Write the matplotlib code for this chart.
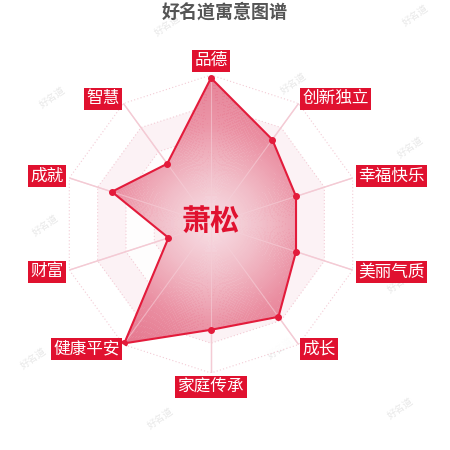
import numpy as np
import matplotlib
matplotlib.use("Agg")
import matplotlib.pyplot as plt
from matplotlib.colors import LinearSegmentedColormap

plt.rcParams["font.family"] = ["Noto Sans CJK SC", "DejaVu Sans"]

# data
title = "好名道寓意图谱"
name = "萧松"
categories = ["品德", "创新独立", "幸福快乐", "美丽气质", "成长",
              "家庭传承", "健康平安", "财富", "成就", "智慧"]
values = [98, 70, 60, 60, 77, 71, 99, 30, 70, 50]
max_value = 100
rings = [20, 40, 60, 80, 100]

red = "#e0112f"
line_red = "#e31b3b"
grid_pink = "#f3cbd5"

fig = plt.figure(figsize=(4.5, 4.5), dpi=100)
fig.patch.set_facecolor("white")

# polar axes centred at (211, 224) px, outer ring radius ~149 px
ax = fig.add_axes([0.1378, 0.1711, 0.6622, 0.6622], projection="polar")
ax.set_theta_offset(np.pi / 2)
ax.set_theta_direction(-1)
ax.set_ylim(0, max_value)
ax.axis("off")

n = len(categories)
angles = np.arange(n) * 2 * np.pi / n
ang_closed = np.append(angles, angles[0])

# split areas: alternating faint bands
for i, r in enumerate(rings[::-1]):
    col = "white" if i % 2 == 0 else "#fcf1f4"
    ax.fill(ang_closed, [r] * (n + 1), color=col, zorder=1, lw=0, alpha=0.9)

# dotted decagon grid
for r in rings:
    ax.plot(ang_closed, [r] * (n + 1), color=grid_pink, lw=0.8,
            ls=(0, (1, 2)), zorder=2)

# axis spokes
for a in angles:
    ax.plot([a, a], [0, max_value], color="#f2c4cf", lw=1.0, zorder=2)

# value polygon with a radial gradient fill
vals_closed = np.append(values, values[0])
shape = ax.fill(ang_closed, vals_closed, facecolor="none", edgecolor="none",
                zorder=3)[0]
cmap = LinearSegmentedColormap.from_list(
    "rad", ["#f7e0e6", "#f1bcc7", "#ea8ea1", "#e4768d"])
th = np.linspace(0, 2 * np.pi, 361)
rr = np.linspace(0, max_value, 101)
TH, RR = np.meshgrid(th, rr)
C = (RR[:-1, :-1] + RR[1:, 1:]) / 2
mesh = ax.pcolormesh(TH, RR, C, cmap=cmap, vmin=0, vmax=max_value,
                     shading="flat", zorder=3, alpha=0.92)
mesh.set_clip_path(shape)

# spokes faintly visible over the fill
for a in angles:
    ax.plot([a, a], [0, max_value], color="#f6d0d9", lw=0.8, zorder=4,
            alpha=0.6)

ax.plot(ang_closed, vals_closed, color=line_red, lw=1.5, zorder=5)
ax.plot(angles, values, "o", color=line_red, ms=4, zorder=6)

# category labels in red boxes
label_r = 104
for a, cat in zip(angles, categories):
    s = np.sin(a)
    c = np.cos(a)
    if abs(s) < 1e-6:
        ha = "center"
        va = "bottom" if c > 0 else "top"
    else:
        ha = "left" if s > 0 else "right"
        va = "center"
    ax.text(a, label_r, cat, ha=ha, va=va, fontsize=12, color="white",
            zorder=7, clip_on=False,
            bbox=dict(boxstyle="square,pad=0.15", facecolor=red,
                      edgecolor="none"))

# name in the centre
ax.text(0.5, 0.51, name, transform=ax.transAxes, ha="center", va="center",
        fontsize=21, fontweight="bold", color=red, zorder=8)

fig.text(0.5, 1 - 12 / 450, title, ha="center", va="center", fontsize=13,
         fontweight="bold", color="#555555")

# faint watermarks, kept underneath the chart
marks_x = [167, 415, 52, 293, 410, 45, 400, 280, 33, 160, 400]
marks_y = [25, 15, 97, 83, 147, 225, 282, 348, 358, 418, 408]
for mx, my in zip(marks_x, marks_y):
    fig.text(mx / 450, 1 - my / 450, "好名道", ha="center", va="center",
             fontsize=7, color="#e8e8e8", rotation=35, zorder=-1)

fig.savefig("out.png", dpi=100, facecolor="white")
